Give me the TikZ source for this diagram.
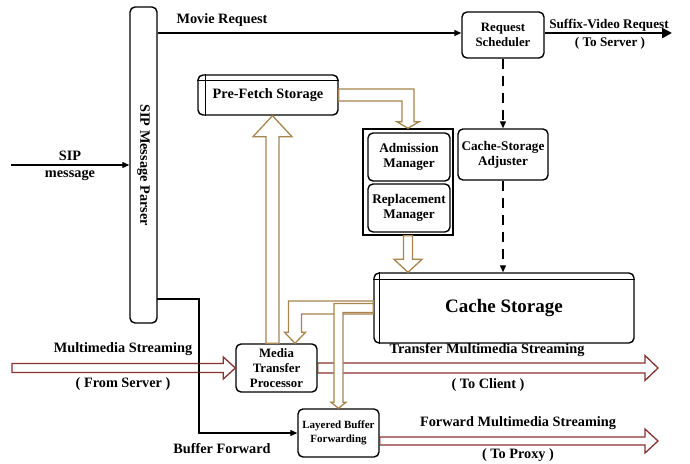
\documentclass[tikz,border=0pt]{standalone}
\usepackage{fontspec}
\setmainfont{Liberation Serif}
\usetikzlibrary{calc,arrows.meta}
\definecolor{tan}{RGB}{168,132,78}
\definecolor{darkred}{RGB}{135,50,50}
\newcommand{\hollowR}[6]{% style, start, tip, shaft half, head half, head length
  \draw[#1] ($(#2)+(0,-#4)$) -- ($(#3)+(-#6,-#4)$) -- ($(#3)+(-#6,-#5)$) -- (#3)
   -- ($(#3)+(-#6,#5)$) -- ($(#3)+(-#6,#4)$) -- ($(#2)+(0,#4)$) -- cycle;}
\newcommand{\hollowU}[6]{%
  \draw[#1] ($(#2)+(-#4,0)$) -- ($(#3)+(-#4,#6)$) -- ($(#3)+(-#5,#6)$) -- (#3)
   -- ($(#3)+(#5,#6)$) -- ($(#3)+(#4,#6)$) -- ($(#2)+(#4,0)$) -- cycle;}
\newcommand{\hollowD}[6]{%
  \draw[#1] ($(#2)+(-#4,0)$) -- ($(#3)+(-#4,-#6)$) -- ($(#3)+(-#5,-#6)$) -- (#3)
   -- ($(#3)+(#5,-#6)$) -- ($(#3)+(#4,-#6)$) -- ($(#2)+(#4,0)$) -- cycle;}
% right then down
\newcommand{\hollowRD}[6]{%
  \coordinate (hc) at (#3 |- #2);
  \draw[#1] ($(#2)+(0,-#4)$) -- ($(hc)+(#4,-#4)$) -- ($(#3)+(#4,-#6)$) -- ($(#3)+(#5,-#6)$) -- (#3)
   -- ($(#3)+(-#5,-#6)$) -- ($(#3)+(-#4,-#6)$) -- ($(hc)+(-#4,#4)$) -- ($(#2)+(0,#4)$) -- cycle;}
% left then down
\newcommand{\hollowLD}[6]{%
  \coordinate (hc) at (#3 |- #2);
  \draw[#1] ($(#2)+(0,-#4)$) -- ($(hc)+(-#4,-#4)$) -- ($(#3)+(-#4,-#6)$) -- ($(#3)+(-#5,-#6)$) -- (#3)
   -- ($(#3)+(#5,-#6)$) -- ($(#3)+(#4,-#6)$) -- ($(hc)+(#4,#4)$) -- ($(#2)+(0,#4)$) -- cycle;}
\begin{document}
\begin{tikzpicture}[x=1pt,y=-1pt,
  box/.style={draw,line width=1.4pt,rounded corners=5pt,fill=white,align=center,
    font=\fontsize{13.2}{15}\selectfont\bfseries,inner sep=1pt},
  sharpbox/.style={draw,line width=1.4pt,fill=white},
  lbl/.style={font=\fontsize{14.3}{16}\selectfont\bfseries,inner sep=0pt,align=center},
  brn/.style={draw=tan,line width=1.3pt,fill=white,line join=miter},
  red/.style={draw=darkred,line width=1.3pt,fill=white,line join=miter},
  conn/.style={line width=1.2pt,-{Triangle[length=7pt,width=6pt]}},
  dconn/.style={line width=1.2pt,dash pattern=on 10pt off 7pt,-{Triangle[length=7pt,width=6pt]}}]
\useasboundingbox (0,0) rectangle (690,463);

% nodes
\node[box,minimum width=27pt,minimum height=316pt] (sip) at (143.5,165) {};
\node[lbl,rotate=-90,font=\fontsize{14.3}{15}\selectfont\bfseries] (siplabel) at (sip.center) {SIP Message Parser};
\node[box,minimum width=82pt,minimum height=46pt,font=\fontsize{12.8}{15}\selectfont\bfseries] (rs) at (503,35) {Request\\Scheduler};
\node[box,minimum width=90pt,minimum height=51pt] (csa) at (503,154.5) {Cache-Storage\\Adjuster};
\node[box,minimum width=140pt,minimum height=40pt,font=\fontsize{14.3}{15}\selectfont\bfseries] (pre) at (268,95) {Pre-Fetch Storage};
\draw[line width=1.1pt] ([xshift=8pt]pre.north west) -- ([xshift=8pt]pre.south west);
\draw[line width=1.1pt] ([yshift=-6pt]pre.north west) -- ([yshift=-6pt]pre.north east);
\node[sharpbox,minimum width=90pt,minimum height=106pt] (cont) at (408,182) {};
\node[box,minimum width=82pt,minimum height=48pt] (adm) at (409,157) {Admission\\Manager};
\node[box,minimum width=82pt,minimum height=48pt] (rep) at (409,208) {Replacement\\Manager};
\node[box,minimum width=260pt,minimum height=70pt,font=\fontsize{19}{21}\selectfont\bfseries] (cache) at (504,308) {Cache Storage};
\draw[line width=1.1pt] ([xshift=6pt]cache.north west) -- ([xshift=6pt]cache.south west);
\draw[line width=1.1pt] ([yshift=-7pt]cache.north west) -- ([yshift=-7pt]cache.north east);
\node[box,minimum width=81pt,minimum height=48pt,font=\fontsize{12.8}{15}\selectfont\bfseries] (mtp) at (276.5,368) {Media\\Transfer\\Processor};
\node[box,minimum width=81pt,minimum height=48pt,font=\fontsize{11}{14}\selectfont\bfseries] (lbf) at (338.5,433) {Layered Buffer\\Forwarding};

% free ends
\coordinate (sipin) at (11,165);
\coordinate (srvin) at (12,368);
\coordinate (cliout) at (658,368);
\coordinate (lbfout) at ([yshift=-8pt]lbf.east);
\coordinate (prxout) at (658,441);
\coordinate (sufout) at (672,33);
\coordinate (bfs) at (157,299);
\coordinate (bfc) at (199,299);

% red streaming arrows
\hollowR{red}{srvin}{mtp.west}{4.5}{11}{12}
\hollowR{red}{mtp.east}{cliout}{5}{12.5}{13}
\hollowR{red}{lbfout}{prxout}{4}{12}{13}

% brown arrows
\coordinate (a1s) at ([xshift=-4pt]mtp.north);
\coordinate (a1t) at (a1s |- pre.south);
\hollowU{brn}{a1s}{a1t}{6.5}{19.5}{21}
\hollowRD{brn}{pre.east}{cont.north}{6}{11}{6.5}
\coordinate (a3t) at (cont.south |- cache.north);
\hollowD{brn}{cont.south}{a3t}{4.5}{14}{13}
\coordinate (a4s) at ([yshift=0.5pt]cache.west);
\coordinate (a4t) at ([xshift=18.5pt]mtp.north);
\hollowLD{brn}{a4s}{a4t}{6.5}{10.5}{11}
\hollowLD{brn}{cache.west}{lbf.north}{4.5}{7.5}{6}

% black connectors
\draw[conn] (sipin) -- (sip.west);
\draw[conn] (sip.east |- 0,33) -- (rs.west |- 0,33);
\draw[line width=2.4pt,-{Triangle[length=10pt,width=10pt]}] (rs.east |- sufout) -- (sufout);
\draw[dconn] (rs.south) -- (csa.north);
\draw[dconn] (csa.south) -- (csa.south |- cache.north);
\draw[conn] (bfs) -- (bfc) -- (bfc |- lbf.west) -- (lbf.west);

% labels
\node[lbl] (lmr) at (222,20) {Movie Request};
\node[lbl] (lsip) at (70,156) {SIP};
\node[lbl] (lmsg) at (70,175) {message};
\node[lbl,font=\fontsize{13.2}{15}\selectfont\bfseries] (lsuf) at (609,25) {Suffix-Video Request};
\node[lbl,font=\fontsize{13.2}{15}\selectfont\bfseries] (lts) at (610,43) {( To Server )};
\node[lbl] (lms) at (123,349) {Multimedia Streaming};
\node[lbl] (lfs) at (123,384) {( From Server )};
\node[lbl] (ltm) at (487,350) {Transfer Multimedia Streaming};
\node[lbl] (ltc) at (488,385) {( To Client )};
\node[lbl] (lfm) at (518,423) {Forward Multimedia Streaming};
\node[lbl] (ltp) at (518,455.5) {( To Proxy )};
\node[lbl] (lbfw) at (222,449) {Buffer Forward};
\end{tikzpicture}
\end{document}
